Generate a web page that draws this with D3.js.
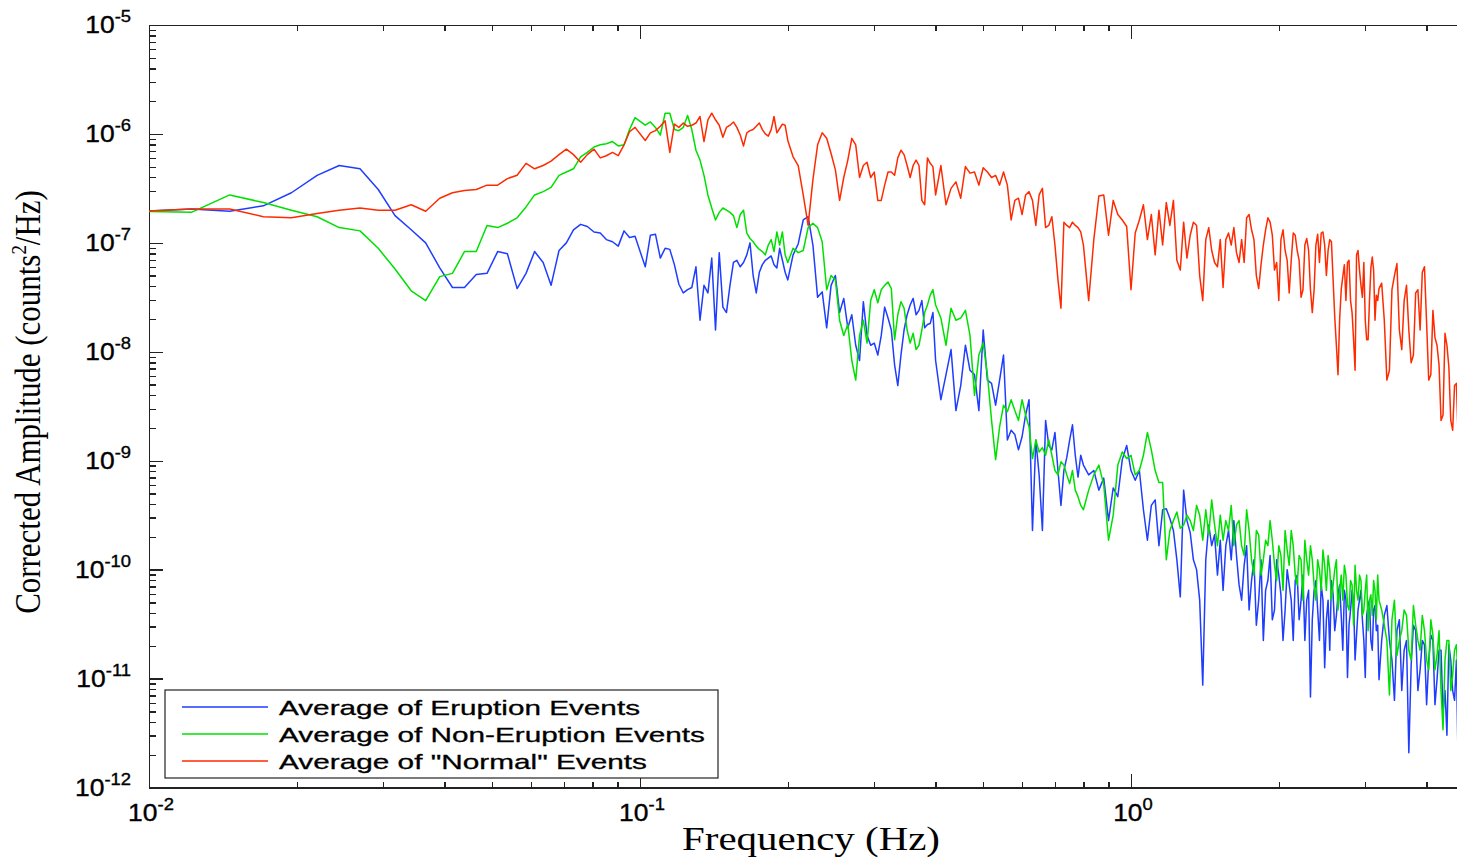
<!DOCTYPE html>
<html lang="en">
<head>
<meta charset="UTF-8">
<title>Corrected Amplitude Spectra</title>
<style>
  body, html { margin: 0; padding: 0; background: #fff; overflow: hidden; }
  svg { display: block; }
  .axis path, .axis line { stroke: #222; stroke-width: 1.4; fill: none; shape-rendering: crispEdges; }
  .tick-label { font-family: "Liberation Sans", Arial, Helvetica, sans-serif; fill: #000; stroke: #000; stroke-width: 0.35; }
  .title { font-family: "Liberation Serif", "Times New Roman", serif; fill: #000; }
  .legend text { font-family: "Liberation Sans", Arial, Helvetica, sans-serif; font-size: 21px; fill: #000; stroke: #000; stroke-width: 0.3; }
</style>
</head>
<body>
<svg></svg>
<script src="https://d3js.org/d3.v7.min.js"></script>
<script>
// frequency of each spectral sample (Hz)
const freqs = [
  0.00977, 0.0122, 0.0146, 0.0171, 0.0195, 0.0220, 0.0244, 0.0269, 0.0293, 0.0317, 0.0342, 0.0366, 0.0391,
  0.0415, 0.0439, 0.0464, 0.0488, 0.0513, 0.0537, 0.0562, 0.0586, 0.0610, 0.0635, 0.0659, 0.0684, 0.0708,
  0.0732, 0.0757, 0.0781, 0.0806, 0.0830, 0.0854, 0.0879, 0.0903, 0.0928, 0.0952, 0.0977,
  0.1025, 0.105, 0.1075, 0.11, 0.1125, 0.115, 0.1175, 0.12, 0.1225, 0.125, 0.1275, 0.13, 0.1325, 0.135,
  0.1375, 0.14, 0.1425, 0.145, 0.1475, 0.15, 0.1525, 0.155, 0.1575, 0.16, 0.1625, 0.165, 0.1675, 0.17,
  0.1725, 0.175, 0.1775, 0.18, 0.1825, 0.185, 0.1875, 0.19, 0.1925, 0.195, 0.1975, 0.2,
  0.205, 0.21, 0.215, 0.22, 0.225, 0.23, 0.235, 0.24, 0.245, 0.25, 0.255, 0.26, 0.265, 0.27, 0.275, 0.28,
  0.285, 0.29, 0.295, 0.3, 0.305, 0.31, 0.315, 0.32, 0.325, 0.33, 0.335, 0.34, 0.345, 0.35, 0.355, 0.36,
  0.365, 0.37, 0.375, 0.38, 0.385, 0.39, 0.395, 0.4,
  0.41, 0.42, 0.43, 0.44, 0.45, 0.46, 0.47, 0.48, 0.49, 0.5, 0.51, 0.52, 0.53, 0.54, 0.55, 0.56, 0.57, 0.58,
  0.59, 0.6, 0.61, 0.62, 0.63, 0.64, 0.65, 0.66, 0.67, 0.68, 0.69, 0.7, 0.71, 0.72, 0.73, 0.74, 0.75, 0.76,
  0.77, 0.78, 0.79, 0.8,
  0.82, 0.84, 0.86, 0.88, 0.9, 0.92, 0.94, 0.96, 0.98, 1.0, 1.02, 1.04, 1.06, 1.08, 1.1, 1.12, 1.14, 1.16,
  1.18, 1.2, 1.22, 1.24, 1.26, 1.28, 1.3, 1.32, 1.34, 1.36, 1.38, 1.4, 1.42, 1.44, 1.46, 1.48, 1.5, 1.52,
  1.54, 1.56, 1.58, 1.6,
  1.62, 1.64, 1.66, 1.68, 1.7, 1.72, 1.74, 1.76, 1.78, 1.8, 1.82, 1.84, 1.86, 1.88, 1.9, 1.92, 1.94, 1.96,
  1.98, 2.0, 2.02, 2.04, 2.06, 2.08, 2.1, 2.12, 2.14, 2.16, 2.18, 2.2, 2.22, 2.24, 2.26, 2.28, 2.3, 2.32,
  2.34, 2.36, 2.38, 2.4, 2.42, 2.44, 2.46, 2.48, 2.5, 2.52, 2.54, 2.56, 2.58, 2.6, 2.62, 2.64, 2.66, 2.68,
  2.7, 2.72, 2.74, 2.76, 2.78, 2.8, 2.82, 2.84, 2.86, 2.88, 2.9, 2.92, 2.94, 2.96, 2.98, 3.0, 3.02, 3.04,
  3.06, 3.08, 3.1, 3.12, 3.14, 3.16, 3.18, 3.2,
  3.24, 3.28, 3.32, 3.36, 3.4, 3.44, 3.48, 3.52, 3.56, 3.6, 3.64, 3.68, 3.72, 3.76, 3.8, 3.84, 3.88, 3.92,
  3.96, 4.0, 4.04, 4.08, 4.12, 4.16, 4.2, 4.24, 4.28, 4.32, 4.36, 4.4, 4.44, 4.48, 4.52, 4.56, 4.6, 4.64
];

// log10 of corrected amplitude (counts^2/Hz), one value per frequency
const eruption = [
  -6.71, -6.69, -6.71, -6.66, -6.54, -6.38, -6.29, -6.32, -6.51, -6.75, -6.88, -7.00, -7.23, -7.41, -7.41,
  -7.29, -7.28, -7.08, -7.10, -7.42, -7.28, -7.08, -7.18, -7.39, -7.07, -7.00, -6.88, -6.83, -6.85, -6.90,
  -6.91, -6.97, -6.99, -7.03, -6.89, -6.95, -6.94,
  -7.22, -6.93, -6.92, -7.14, -7.05, -7.06, -7.20, -7.38, -7.46, -7.43, -7.41, -7.22, -7.71, -7.39, -7.46,
  -7.14, -7.80, -7.09, -7.59, -7.64, -7.39, -7.18, -7.16, -7.22, -7.18, -7.11, -7.00, -7.30, -7.46, -7.27,
  -7.20, -7.16, -7.14, -7.12, -7.20, -7.23, -7.05, -7.16, -7.27, -7.34,
  -7.11, -7.01, -6.79, -6.76, -7.02, -7.50, -7.45, -7.78, -7.39, -7.30, -7.64, -7.51, -7.78, -7.66, -7.94,
  -8.08, -7.54, -7.85, -7.94, -7.92, -8.03, -7.85, -7.59, -7.69, -7.80, -8.12, -8.31, -8.03, -7.80, -7.66,
  -7.57, -7.51, -7.66, -7.62, -7.53, -7.78, -7.75, -7.74, -7.64, -8.08,
  -8.44, -8.21, -7.98, -8.54, -8.31, -7.94, -8.17, -8.21, -8.54, -7.80, -8.26, -8.29, -8.49, -8.26, -8.03,
  -8.81, -8.72, -8.76, -8.90, -8.78, -8.58, -8.44, -9.64, -8.81, -9.13, -9.64, -8.63, -8.86, -8.90, -8.74,
  -9.09, -9.41, -9.09, -8.97, -8.81, -8.67, -8.95, -9.15, -8.95, -9.04,
  -9.13, -9.09, -9.27, -9.16, -9.55, -9.25, -9.33, -8.99, -8.86, -9.09, -9.18, -9.09, -9.45, -9.73, -9.41,
  -9.36, -9.78, -9.45, -9.44, -9.53, -9.64, -9.91, -10.25, -9.27, -9.55, -9.66, -9.91, -10.00, -10.28, -11.06,
  -9.91, -9.59, -9.78, -9.68, -10.05, -9.73, -10.19, -9.78, -9.64, -9.91,
  -9.55, -9.87, -10.14, -10.28, -9.96, -9.78, -10.37, -10.10, -9.91, -10.51,
  -10.28, -9.91, -10.65, -10.19, -10.10, -9.87, -10.46, -10.37, -9.91, -10.05,
  -10.23, -10.65, -10.37, -10.00, -10.14, -10.28, -10.65, -10.10, -10.05, -10.46,
  -10.28, -10.05, -10.65, -10.28, -10.19, -11.17, -10.46, -10.19, -10.10, -10.37,
  -10.65, -10.14, -10.28, -10.90, -10.46, -10.28, -10.74, -10.10, -10.23, -10.56,
  -10.42, -10.23, -10.14, -10.42, -10.74, -10.19, -10.28, -10.99, -10.51, -10.37,
  -10.19, -10.28, -10.83, -10.60, -10.37, -10.28, -10.19, -10.46, -10.65, -10.99,
  -10.42, -10.33, -10.28, -10.65, -10.74, -10.37, -10.33, -10.56, -10.51, -11.01,
  -10.65, -10.42, -10.33, -10.65, -10.83, -11.20, -10.56, -10.46, -11.11, -10.74, -10.65, -11.68,
  -10.88, -10.51, -10.56, -11.11, -10.92, -10.65, -10.69, -11.24, -10.83, -10.60, -10.65, -11.24,
  -11.01, -10.74, -10.74, -11.31, -11.11, -11.52, -10.69, -10.83, -11.11, -11.20, -10.83, -11.86
];

const nonEruption = [
  -6.71, -6.72, -6.56, -6.63, -6.70, -6.76, -6.86, -6.89, -7.05, -7.24, -7.44, -7.53, -7.31, -7.28, -7.08,
  -7.08, -6.84, -6.86, -6.82, -6.77, -6.67, -6.56, -6.53, -6.49, -6.38, -6.35, -6.32, -6.21, -6.17, -6.12,
  -6.10, -6.09, -6.07, -6.11, -6.10, -5.96, -5.85,
  -5.92, -5.89, -5.94, -6.01, -5.81, -5.81, -5.96, -5.97, -5.94, -5.83, -5.96, -6.15, -6.24, -6.38, -6.56,
  -6.68, -6.79, -6.72, -6.68, -6.70, -6.72, -6.75, -6.86, -6.74, -6.70, -6.91, -6.96, -6.99, -7.03, -7.06,
  -7.08, -7.11, -7.02, -6.97, -7.08, -6.90, -7.02, -6.90, -7.11, -7.18,
  -7.05, -7.09, -7.07, -6.86, -6.82, -6.86, -6.99, -7.43, -7.30, -7.34, -7.71, -7.85, -7.75, -8.08, -8.26,
  -7.85, -7.71, -7.92, -7.53, -7.43, -7.55, -7.43, -7.39, -7.36, -7.42, -7.89, -7.66, -7.54, -7.60, -7.80,
  -7.92, -7.83, -7.98, -7.94, -7.80, -7.64, -7.57, -7.48, -7.43, -7.57,
  -7.69, -7.94, -7.60, -7.71, -7.69, -7.62, -7.85, -8.40, -8.03, -7.92, -8.21, -8.63, -8.99, -8.69, -8.49,
  -8.55, -8.44, -8.54, -8.63, -8.44, -8.58, -8.69, -8.98, -8.81, -8.92, -8.88, -8.95, -8.81, -8.95, -9.09,
  -9.13, -9.01, -9.04, -9.13, -9.21, -9.09, -9.27, -9.33, -9.41, -9.45,
  -9.27, -9.13, -9.04, -9.22, -9.73, -9.50, -9.04, -8.92, -8.98, -8.95, -9.13, -9.09, -8.95, -8.74, -8.90,
  -9.09, -9.20, -9.20, -9.91, -9.64, -9.55, -9.47, -9.62, -9.59, -9.50, -9.55, -9.64, -9.41, -9.50, -9.73,
  -9.45, -9.68, -9.36, -9.59, -9.78, -9.50, -9.73, -9.55, -9.64, -9.41,
  -9.78, -9.59, -9.55, -9.78, -9.87, -9.45, -9.64, -9.91, -10.05, -9.64,
  -9.68, -10.05, -9.91, -9.73, -9.78, -9.55, -9.73, -9.96, -10.10, -9.78,
  -9.87, -10.19, -9.64, -9.82, -9.96, -9.64, -9.78, -10.05, -10.14, -9.87,
  -9.91, -10.28, -9.73, -9.91, -10.05, -9.78, -9.91, -10.14, -10.28, -9.91,
  -10.00, -10.19, -9.82, -9.96, -10.19, -9.87, -10.00, -10.28, -10.14, -10.00,
  -9.91, -10.37, -10.19, -10.05, -10.28, -9.96, -10.05, -10.33, -10.37, -10.10,
  -10.14, -10.51, -9.96, -10.19, -10.28, -10.05, -10.10, -10.42, -10.37, -10.19,
  -10.05, -10.56, -10.28, -10.23, -10.42, -10.10, -10.19, -10.46, -10.05, -10.28,
  -10.37, -10.51, -10.65, -11.15, -10.46, -10.28, -10.79, -10.65, -10.56, -10.37, -10.42, -10.74,
  -10.83, -10.33, -10.51, -10.65, -10.74, -10.42, -10.56, -10.83, -10.92, -10.46, -10.60, -10.92,
  -10.79, -10.56, -11.11, -11.47, -10.83, -10.65, -10.65, -11.11, -10.97, -10.74, -10.69, -11.01
];

const normal = [
  -6.71, -6.69, -6.69, -6.76, -6.77, -6.73, -6.70, -6.68, -6.70, -6.70, -6.65, -6.71, -6.59, -6.54, -6.52,
  -6.51, -6.47, -6.47, -6.41, -6.38, -6.27, -6.32, -6.29, -6.25, -6.19, -6.14, -6.19, -6.26, -6.19, -6.14,
  -6.22, -6.20, -6.17, -6.20, -6.10, -5.98, -5.94,
  -6.06, -5.99, -5.97, -5.93, -5.88, -6.17, -5.91, -5.94, -5.90, -5.93, -5.92, -5.90, -5.84, -6.07, -5.87,
  -5.81, -5.87, -5.92, -6.03, -5.94, -5.92, -5.89, -5.94, -6.01, -6.11, -5.99, -5.97, -5.96, -5.93, -5.90,
  -5.96, -6.00, -6.02, -5.96, -5.84, -5.99, -5.95, -5.91, -5.92, -6.06,
  -6.21, -6.29, -6.56, -6.84, -6.42, -6.10, -5.99, -6.04, -6.18, -6.33, -6.61, -6.40, -6.24, -6.04, -6.10,
  -6.40, -6.29, -6.26, -6.40, -6.35, -6.61, -6.61, -6.47, -6.35, -6.35, -6.38, -6.22, -6.15, -6.19, -6.29,
  -6.40, -6.29, -6.24, -6.29, -6.61, -6.65, -6.22, -6.27, -6.30, -6.56,
  -6.29, -6.65, -6.50, -6.44, -6.59, -6.30, -6.36, -6.35, -6.47, -6.31, -6.35, -6.40, -6.38, -6.47, -6.35,
  -6.47, -6.79, -6.61, -6.59, -6.74, -6.56, -6.53, -6.61, -6.84, -6.56, -6.50, -6.86, -6.84, -6.76, -7.02,
  -7.34, -7.60, -6.81, -6.84, -6.86, -6.81, -6.84, -6.86, -6.90, -7.02,
  -7.53, -6.97, -6.57, -6.56, -6.93, -6.61, -6.74, -6.79, -6.85, -7.43, -6.91, -6.79, -6.65, -6.97, -6.74,
  -7.11, -6.70, -7.02, -6.63, -6.84, -6.61, -7.16, -7.25, -6.81, -7.14, -6.93, -6.81, -6.84, -7.30, -7.53,
  -6.97, -6.86, -7.07, -7.18, -7.22, -6.97, -7.41, -6.97, -6.91, -7.02,
  -6.86, -7.09, -7.18, -6.97, -7.18, -6.77, -6.74, -6.88, -6.97, -7.30,
  -7.42, -7.20, -7.02, -6.88, -6.77, -6.81, -6.93, -7.25, -7.18, -7.53,
  -6.97, -6.88, -7.07, -7.16, -7.46, -7.16, -6.91, -6.93, -7.07, -7.16,
  -7.50, -7.43, -7.02, -6.96, -7.07, -7.43, -7.64, -7.43, -7.02, -6.92,
  -7.18, -6.91, -6.90, -7.02, -7.30, -7.07, -6.97, -6.99, -7.34, -7.68,
  -7.94, -8.21, -7.71, -7.43, -7.31, -7.20, -7.53, -7.18, -7.16, -7.53,
  -7.64, -7.89, -8.17, -7.11, -7.07, -7.25, -7.39, -7.50, -7.18, -7.71,
  -7.89, -7.89, -7.53, -7.23, -7.13, -7.25, -7.71, -7.48, -7.53, -7.42,
  -7.37, -7.71, -8.26, -8.17, -7.43, -7.30, -7.19, -7.80, -7.98, -7.53, -7.39, -7.80,
  -8.10, -8.03, -7.46, -7.43, -7.80, -7.27, -7.22, -7.74, -8.26, -8.21, -7.62, -7.87,
  -7.94, -8.12, -8.63, -8.58, -7.83, -7.94, -8.14, -8.63, -8.72, -8.31, -8.29, -8.81
];

const seriesLabels = ["Average of Eruption Events", "Average of Non-Eruption Events", "Average of \"Normal\" Events"];
const seriesColors = ["#1f3dff", "#00e000", "#ff2a00"];
const xTickExps = [-2, -1, 0];
const yTickExps = [-12, -11, -10, -9, -8, -7, -6, -5];

const width = 1457, height = 858;
const plot = { left: 149, top: 25, bottom: 787.5 };

const svg = d3.select("svg").attr("width", width).attr("height", height);

// the plot runs out to 5 Hz, past the right edge of the picture
const x = d3.scaleLog().domain([0.01, 5]).range([plot.left, plot.left + Math.log10(500) * 491]);
const y = d3.scaleLog().domain([1e-12, 1e-5]).range([plot.bottom, plot.top]);

const decadesX = xTickExps.map(e => Math.pow(10, e));
const minorsX = [];
decadesX.forEach(d => { for (let m = 2; m <= 9; m++) if (d * m <= 5) minorsX.push(d * m); });
const decadesY = yTickExps.map(e => Math.pow(10, e));
const minorsY = [];
decadesY.slice(0, -1).forEach(d => { for (let m = 2; m <= 9; m++) minorsY.push(d * m); });

function addAxis(axisFn, scale, values, size, transform, keepDomain) {
  const g = svg.append("g")
    .attr("class", "axis")
    .attr("transform", transform)
    .call(axisFn(scale).tickValues(values).tickSize(size).tickSizeOuter(0).tickFormat(""));
  if (!keepDomain) g.select(".domain").remove();
  return g;
}

addAxis(d3.axisBottom, x, decadesX, -14, `translate(0,${plot.bottom})`, true);
addAxis(d3.axisBottom, x, minorsX, -6, `translate(0,${plot.bottom})`, false);
addAxis(d3.axisTop, x, decadesX, -14, `translate(0,${plot.top})`, true);
addAxis(d3.axisTop, x, minorsX, -6, `translate(0,${plot.top})`, false);
addAxis(d3.axisLeft, y, decadesY, -14, `translate(${plot.left},0)`, true);
addAxis(d3.axisLeft, y, minorsY, -7, `translate(${plot.left},0)`, false);

// tick labels: 10 with a raised exponent
function powerLabel(g, exp, anchor) {
  const t = g.append("text").attr("class", "tick-label").attr("text-anchor", anchor);
  t.append("tspan").attr("font-size", 23).text("10");
  t.append("tspan").attr("font-size", 16).attr("dy", -11).text(exp);
}

xTickExps.forEach(e => {
  const g = svg.append("g").attr("transform", `translate(${x(Math.pow(10, e)) + 2},821) scale(1.15,1)`);
  powerLabel(g, e, "middle");
});
yTickExps.forEach(e => {
  const g = svg.append("g").attr("transform", `translate(131,${y(Math.pow(10, e)) + 8}) scale(1.15,1)`);
  powerLabel(g, e, "end");
});

// data lines
svg.append("clipPath").attr("id", "plot-clip")
  .append("rect")
  .attr("x", plot.left).attr("y", plot.top)
  .attr("width", width - plot.left).attr("height", plot.bottom - plot.top);

const line = d3.line().x(d => x(d[0])).y(d => y(d[1]));
const seriesData = [eruption, nonEruption, normal];

svg.append("g").attr("clip-path", "url(#plot-clip)")
  .selectAll("path")
  .data(seriesData)
  .join("path")
  .attr("fill", "none")
  .attr("stroke", (d, i) => seriesColors[i])
  .attr("stroke-width", 1.5)
  .attr("stroke-linejoin", "round")
  .attr("d", vals => line(freqs.map((f, i) => [f, Math.pow(10, vals[i])])));

// axis titles
svg.append("text")
  .attr("class", "title")
  .attr("x", 811).attr("y", 850)
  .attr("text-anchor", "middle")
  .attr("font-size", 33)
  .attr("textLength", 258)
  .attr("lengthAdjust", "spacingAndGlyphs")
  .text("Frequency (Hz)");

const yTitle = svg.append("text")
  .attr("class", "title")
  .attr("transform", "translate(40,402) rotate(-90) scale(0.86,1)")
  .attr("text-anchor", "middle")
  .attr("font-size", 36);
yTitle.append("tspan").text("Corrected Amplitude (counts");
yTitle.append("tspan").attr("font-size", 22).attr("dy", -14).text("2");
yTitle.append("tspan").attr("dy", 14).text("/Hz)");

// legend
const legend = svg.append("g").attr("class", "legend");
legend.append("rect")
  .attr("x", 165).attr("y", 690).attr("width", 553).attr("height", 88)
  .attr("fill", "#fff").attr("stroke", "#222").attr("stroke-width", 1.2);
const legendWidths = [361, 426, 368];
seriesLabels.forEach((name, i) => {
  const ly = 707 + i * 27;
  legend.append("line")
    .attr("x1", 182).attr("x2", 268).attr("y1", ly).attr("y2", ly)
    .attr("stroke", seriesColors[i]).attr("stroke-width", 1.4);
  legend.append("text")
    .attr("x", 279).attr("y", ly + 8)
    .attr("textLength", legendWidths[i])
    .attr("lengthAdjust", "spacingAndGlyphs")
    .text(name);
});
</script>
</body>
</html>
